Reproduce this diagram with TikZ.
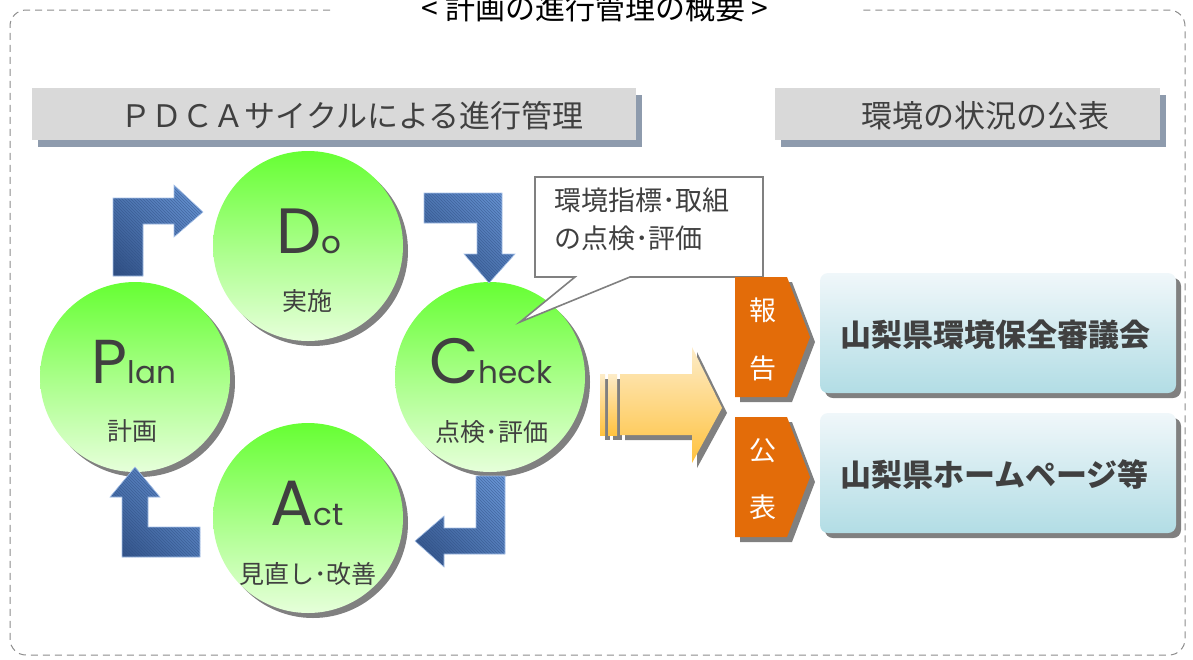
\documentclass[tikz,border=0pt]{standalone}
\usepackage{fontspec}
\setmainfont{Noto Sans CJK JP}
\newfontfamily\latinf{Poppins}
\usetikzlibrary{patterns,shadings}
\definecolor{txt}{HTML}{404040}
\definecolor{hdr}{HTML}{D9D9D9}
\definecolor{hdrshadow}{HTML}{8E9BAD}
\definecolor{shd}{HTML}{808080}
\definecolor{gtop}{HTML}{66FF33}
\definecolor{gmid}{HTML}{A8FF88}
\definecolor{gbot}{HTML}{E6FFDA}
\definecolor{btop}{HTML}{F0F7FA}
\definecolor{bbot}{HTML}{B2DDE5}
\definecolor{orng}{HTML}{E36C09}
\definecolor{ytop}{HTML}{FDECC8}
\definecolor{ybot}{HTML}{FFC23F}
\definecolor{aLight}{HTML}{6B98D8}
\definecolor{aMid}{HTML}{4F78B5}
\definecolor{aDark}{HTML}{2F4E82}
\definecolor{framec}{HTML}{8C8C8C}
\newcommand\fs[1]{\fontsize{#1}{#1}\selectfont}
\newcommand\bluearrow[1]{%
  \shade[upper right=aLight, lower left=aDark, upper left=aMid, lower right=aMid] #1;
  \fill[pattern=north west lines, pattern color=aDark, opacity=0.55] #1;
  \draw[aLight!60!white, line width=0.6pt] #1;}
\begin{document}
\begin{tikzpicture}[x=1pt,y=-1pt,
  hdrbar/.style={fill=hdr},
  hdrshd/.style={fill=hdrshadow},
  shadowfill/.style={fill=shd},
  ball/.style={top color=gtop, bottom color=gbot, middle color=gmid},
  big/.style={anchor=base, text=txt, inner sep=0pt, font=\latinf},
  sub/.style={anchor=base, text=txt, inner sep=0pt, font=\fs{25}},
  hdrtxt/.style={anchor=base, text=txt, inner sep=0pt, font=\fs{31}},
  orngbox/.style={fill=orng},
  orngtxt/.style={anchor=base, text=white, inner sep=0pt, font=\fs{27}},
  bluebox/.style={top color=btop, bottom color=bbot, rounded corners=8pt},
  boxtxt/.style={anchor=base west, text=txt, inner sep=0pt, font=\fs{31}\bfseries},
  callout/.style={draw=shd, line width=1.6pt, fill=white, line join=miter},
  yarrow/.style={top color=ytop, bottom color=ybot},
]
\useasboundingbox (0,0) rectangle (1193,659);

% frame
\draw[framec, line width=1pt, dash pattern=on 7pt off 5pt, rounded corners=16pt]
  (330,10) -- (10,10) -- (10,655) -- (1185,655) -- (1185,10) -- (862,10);
\node[anchor=base, inner sep=0pt, font=\fs{30}] (title) at (595,19) {< 計画の進行管理の概要 >};

% header bars
\fill[hdrshd] (38,95) rectangle (642,147);
\fill[hdrbar] (32,88) rectangle (636,140);
\node[hdrtxt] (h1) at (352,127) {ＰＤＣＡサイクルによる進行管理};
\fill[hdrshd] (781,95) rectangle (1166,147);
\fill[hdrbar] (775,88) rectangle (1160,140);
\node[hdrtxt] (h2) at (985,127) {環境の状況の公表};

% circles
\foreach \cx/\cy in {135/377, 308/246, 490/377, 308/518} {
  \fill[shadowfill] (\cx+5,\cy+5) circle (95);
  \shade[ball] (\cx,\cy) circle (95);
}
\node[big] (P) at (134,383) {\fs{62}P\fs{31}lan};
\node[sub] (Pl) at (132,440) {計画};
\node[big] (D) at (309,253) {\fs{64}D\fs{31}o};
\node[sub] (Dl) at (307,310) {実施};
\node[big] (C) at (491,383) {\fs{64}C\fs{31}heck};
\node[sub] (Cl) at (492,441) {点検･評価};
\node[big] (A) at (307,525) {\fs{64}A\fs{31}ct};
\node[sub] (Al) at (308,583) {見直し･改善};

% blue bent arrows
\bluearrow{(113,276) -- (113,198) -- (174,198) -- (174,185) -- (203,212) -- (174,237) -- (174,224) -- (143,224) -- (143,276) -- cycle}
\bluearrow{(424,193) -- (502,193) -- (502,254) -- (515,254) -- (489,283) -- (464,254) -- (477,254) -- (477,223) -- (424,223) -- cycle}
\bluearrow{(476,476) -- (505,476) -- (505,554) -- (444,554) -- (444,567) -- (415,541) -- (444,516) -- (444,528) -- (476,528) -- cycle}
\bluearrow{(122,557) -- (200,557) -- (200,527) -- (148,527) -- (148,497) -- (160,497) -- (135,467) -- (110,497) -- (122,497) -- cycle}

% callout
\draw[callout] (535,177) -- (763,177) -- (763,277) -- (630,277) -- (520,322) -- (575,277) -- (535,277) -- cycle;
\node[anchor=base west, text=txt, inner sep=0pt, font=\fs{27}] (co1) at (554,210) {環境指標･取組};
\node[anchor=base west, text=txt, inner sep=0pt, font=\fs{27}] (co2) at (554,248) {の点検･評価};

% yellow arrow
\fill[shadowfill] (605,379) rectangle (610,440);
\fill[shadowfill] (613,379) rectangle (622,440);
\fill[shadowfill] (625,379) -- (697,379) -- (697,352) -- (727,413) -- (697,468) -- (697,440) -- (625,440) -- cycle;
\shade[yarrow] (600,374) rectangle (605,435);
\shade[yarrow] (608,374) rectangle (617,435);
\shade[yarrow] (620,374) -- (692,374) -- (692,347) -- (722,408) -- (692,463) -- (692,435) -- (620,435) -- cycle;

% orange tags
\foreach \ty in {277, 417} {
  \fill[shadowfill] (740,\ty+5) -- (792,\ty+5) -- (815,\ty+65) -- (792,\ty+125) -- (740,\ty+125) -- cycle;
  \fill[orngbox] (735,\ty) -- (787,\ty) -- (810,\ty+60) -- (787,\ty+120) -- (735,\ty+120) -- cycle;
}
\node[orngtxt] (t1) at (763,320) {報};
\node[orngtxt] (t2) at (763,378) {告};
\node[orngtxt] (t3) at (763,460) {公};
\node[orngtxt] (t4) at (763,517) {表};

% blue boxes
\fill[shadowfill, rounded corners=8pt] (825,278) rectangle (1181,398);
\shade[bluebox] (820,273) rectangle (1176,393);
\node[boxtxt] (b1) at (840,346) {山梨県環境保全審議会};
\fill[shadowfill, rounded corners=8pt] (825,418) rectangle (1181,538);
\shade[bluebox] (820,413) rectangle (1176,533);
\node[boxtxt] (b2) at (840,486) {山梨県ホームページ等};
\end{tikzpicture}
\end{document}
